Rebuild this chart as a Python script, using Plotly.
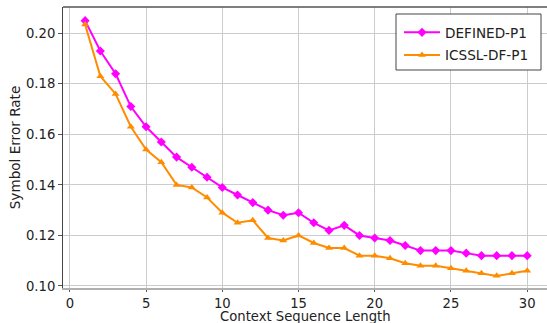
import plotly.graph_objects as go

context_len = list(range(1, 31))
defined_p1 = [0.205, 0.193, 0.184, 0.171, 0.163, 0.157, 0.151, 0.147, 0.143, 0.139,
              0.136, 0.133, 0.130, 0.128, 0.129, 0.125, 0.122, 0.124, 0.120, 0.119,
              0.118, 0.116, 0.114, 0.114, 0.114, 0.113, 0.112, 0.112, 0.112, 0.112]
icssl_df_p1 = [0.2035, 0.183, 0.176, 0.163, 0.154, 0.149, 0.140, 0.139, 0.135, 0.129,
               0.125, 0.126, 0.119, 0.118, 0.120, 0.117, 0.115, 0.115, 0.112, 0.112,
               0.111, 0.109, 0.108, 0.108, 0.107, 0.106, 0.105, 0.104, 0.105, 0.106]
x_ticks = [0, 5, 10, 15, 20, 25, 30]
y_ticks = [0.10, 0.12, 0.14, 0.16, 0.18, 0.20]
x_title = "Context Sequence Length"
y_title = "Symbol Error Rate"

FONT = "DejaVu Sans"
FS = 13.6
TFS = 13.2
XFS = 13.2

W, H = 547, 323
ML, MR, MT, MB = 63, 0, 7, 35
PW, PH = W - ML - MR, H - MT - MB


def px_x(p):
    return (p - ML) / PW


def px_y(p):
    return 1 - (p - MT) / PH


fig = go.Figure()
fig.add_trace(go.Scatter(
    x=context_len, y=defined_p1, name="DEFINED-P1", mode="lines+markers",
    legendgroup="a",
    line=dict(color="#ff00ff", width=2),
    marker=dict(symbol="diamond", size=7, color="#ff00ff"),
))
fig.add_trace(go.Scatter(
    x=context_len, y=icssl_df_p1, name="ICSSL-DF-P1", mode="lines+markers",
    legendgroup="b",
    line=dict(color="#ff8c00", width=2),
    marker=dict(symbol="triangle-up", size=7, color="#ff8c00"),
))

fig.update_layout(
    width=W, height=H,
    margin=dict(l=ML, r=MR, t=MT, b=MB),
    paper_bgcolor="white", plot_bgcolor="white",
    font=dict(family=FONT, size=FS, color="#222222"),
    showlegend=True,
    legend=dict(
        x=px_x(399), y=px_y(17), xanchor="left", yanchor="top",
        bgcolor="rgba(0,0,0,0)", borderwidth=0,
        font=dict(family=FONT, size=FS, color="#222222"),
        itemwidth=36, tracegroupgap=2,
    ),
)
fig.update_xaxes(
    range=[-0.45, 31.3], tickvals=x_ticks, ticktext=[str(v) for v in x_ticks],
    tickfont=dict(family=FONT, size=TFS, color="#222222"),
    showgrid=True, gridcolor="#cccccc", gridwidth=1,
    showline=True, linecolor="#b0b0b0", linewidth=2, mirror=False,
    ticks="outside", ticklen=2, tickcolor="#555555",
    zeroline=False, automargin=False,
)
fig.update_yaxes(
    range=[0.0992, 0.2104], tickvals=y_ticks, ticktext=[f"{v:.2f}" for v in y_ticks],
    tickfont=dict(family=FONT, size=TFS, color="#222222"),
    showgrid=True, gridcolor="#cccccc", gridwidth=1,
    showline=True, linecolor="#444444", linewidth=1, mirror=False,
    ticks="outside", ticklen=4, tickcolor="#555555",
    zeroline=False, automargin=False,
    title=dict(text=y_title, font=dict(family=FONT, size=FS), standoff=2),
)
# x-axis title placed just below the tick labels
fig.add_annotation(text=x_title, xref="paper", yref="paper",
                   x=px_x(305), y=px_y(316.3), xanchor="center", yanchor="middle",
                   showarrow=False, font=dict(family=FONT, size=XFS, color="#222222"))
# top border line
fig.add_shape(type="line", xref="paper", yref="paper", x0=0, x1=1, y0=1, y1=1,
              line=dict(color="#555555", width=1.5))
# legend frame
fig.add_shape(type="rect", xref="paper", yref="paper", layer="above",
              x0=px_x(396), x1=px_x(541), y0=px_y(70), y1=px_y(14),
              fillcolor="white", line=dict(color="#444444", width=1))

fig.write_html("out.html")
